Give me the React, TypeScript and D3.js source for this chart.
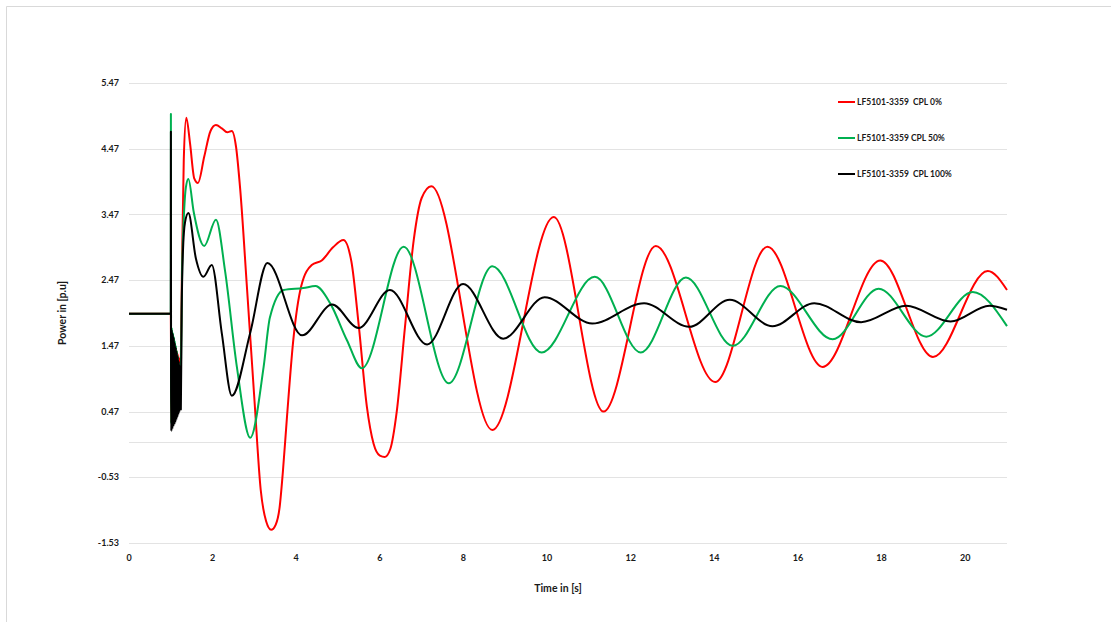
import React from 'react'
import * as d3 from 'd3'

const width = 1111
const height = 622
const plot = { left: 129, right: 1007, top: 83, bottom: 543 }

const xTicks = [0, 2, 4, 6, 8, 10, 12, 14, 16, 18, 20]
const yTicks = [5.47, 4.47, 3.47, 2.47, 1.47, 0.47, -0.53, -1.53]

const seriesNames = ['LF5101-3359  CPL 0%', 'LF5101-3359 CPL 50%', 'LF5101-3359  CPL 100%']
const seriesColors = ['#ff0000', '#00b050', '#000000']

// [time s, power p.u]
const cpl0: [number, number][] = [
  [0, 1.96], [1.0, 1.96], [1.006, 1.2], [1.012, 0.3], [1.024, 1.65], [1.036, 0.32],
  [1.048, 1.6], [1.06, 0.36], [1.072, 1.55], [1.084, 0.4], [1.096, 1.5], [1.108, 0.44],
  [1.12, 1.45], [1.132, 0.48], [1.144, 1.4], [1.156, 0.52], [1.168, 1.35], [1.18, 0.55],
  [1.192, 1.3], [1.204, 0.6], [1.216, 1.22], [1.228, 1.15], [1.24, 1.3],
  [1.27, 2.8], [1.31, 4.3], [1.37, 4.94], [1.46, 4.55], [1.56, 4.02], [1.65, 3.95],
  [1.8, 4.35], [1.95, 4.74], [2.08, 4.83], [2.22, 4.78], [2.35, 4.72], [2.46, 4.74],
  [2.56, 4.5], [2.66, 3.85], [2.82, 2.37], [3.0, 0.65], [3.15, -0.72], [3.28, -1.2],
  [3.4, -1.33], [3.51, -1.25], [3.6, -1.0], [3.68, -0.45], [3.78, 0.4], [3.93, 1.56],
  [4.12, 2.38], [4.37, 2.7], [4.61, 2.77], [4.88, 2.97], [5.13, 3.08], [5.32, 2.75],
  [5.5, 1.75], [5.69, 0.54], [5.85, -0.02], [6.0, -0.2], [6.12, -0.22], [6.25, -0.1],
  [6.4, 0.45], [6.6, 1.75], [6.81, 3.08], [7.0, 3.72], [7.23, 3.9], [8.69, 0.19],
  [10.16, 3.43], [11.35, 0.47], [12.6, 2.99], [14.02, 0.92], [15.27, 2.98],
  [16.59, 1.15], [17.97, 2.77], [19.23, 1.3], [20.54, 2.61], [21.0, 2.32]
]

const cpl50: [number, number][] = [
  [0, 1.96], [1.0, 1.96], [1.002, 5.0], [1.006, 1.2], [1.012, 0.28], [1.024, 1.75],
  [1.036, 0.32], [1.048, 1.68], [1.06, 0.36], [1.072, 1.62], [1.084, 0.4], [1.096, 1.55],
  [1.108, 0.44], [1.12, 1.48], [1.132, 0.48], [1.144, 1.4], [1.156, 0.52], [1.168, 1.32],
  [1.18, 0.56], [1.192, 1.22], [1.204, 0.62], [1.216, 1.1], [1.228, 0.95], [1.24, 1.05],
  [1.27, 2.6], [1.31, 3.4], [1.36, 3.88], [1.42, 4.01], [1.55, 3.5], [1.8, 2.99],
  [2.08, 3.39], [2.3, 2.6], [2.58, 1.15], [2.9, 0.07], [3.22, 1.15], [3.37, 1.9],
  [3.7, 2.32], [4.17, 2.35], [4.46, 2.38], [4.81, 2.12], [5.21, 1.56], [5.57, 1.13],
  [6.57, 2.98], [7.65, 0.9], [8.69, 2.68], [9.87, 1.37], [11.14, 2.52], [12.24, 1.37],
  [13.32, 2.51], [14.44, 1.47], [15.58, 2.38], [16.83, 1.57], [17.93, 2.34],
  [19.07, 1.61], [20.18, 2.29], [21.0, 1.77]
]

const cpl100: [number, number][] = [
  [0, 1.96], [1.0, 1.96], [1.002, 4.73], [1.006, 1.0], [1.012, 0.17], [1.022, 1.72],
  [1.034, 0.2], [1.046, 1.66], [1.058, 0.24], [1.07, 1.6], [1.082, 0.27], [1.094, 1.52],
  [1.106, 0.3], [1.118, 1.45], [1.13, 0.34], [1.142, 1.38], [1.154, 0.38], [1.166, 1.31],
  [1.178, 0.42], [1.19, 1.24], [1.202, 0.46], [1.214, 1.17], [1.226, 0.52], [1.24, 0.5],
  [1.26, 2.0], [1.29, 2.9], [1.34, 3.35], [1.42, 3.49], [1.6, 2.8], [1.78, 2.52],
  [1.98, 2.7], [2.22, 1.66], [2.46, 0.71], [2.9, 1.67], [3.31, 2.73], [4.14, 1.63],
  [4.86, 2.1], [5.49, 1.74], [6.24, 2.32], [7.13, 1.49], [7.99, 2.41], [8.95, 1.58],
  [9.94, 2.21], [11.08, 1.81], [12.32, 2.12], [13.4, 1.76], [14.37, 2.17], [15.39, 1.77],
  [16.39, 2.12], [17.51, 1.83], [18.59, 2.08], [19.65, 1.84], [20.58, 2.08], [21.0, 2.02]
]

const seriesData = [cpl0, cpl50, cpl100]

const font = "Lato, 'Open Sans', sans-serif"

const App = () => {
  const x = d3.scaleLinear().domain([0, 21]).range([plot.left, plot.right])
  const y = d3.scaleLinear().domain([-1.53, 5.47]).range([plot.bottom, plot.top])

  const line = d3
    .line<[number, number]>()
    .x(d => x(d[0]))
    .y(d => y(d[1]))
    .curve(d3.curveMonotoneX)

  return (
    <svg
      width={width}
      height={height}
      style={{ position: 'absolute', left: 0, top: 0, background: '#fff' }}
      fontFamily={font}
      fontWeight="bold"
    >
      <path d={`M6.5,${height} V6.5 H${width}`} fill="none" stroke="#d9d9d9" />

      {/* grid */}
      <g stroke="#e3e3e3" strokeWidth={1}>
        {yTicks.map(t => (
          <line key={t} x1={plot.left} x2={plot.right} y1={Math.round(y(t)) + 0.5} y2={Math.round(y(t)) + 0.5} />
        ))}
        <line x1={plot.left} x2={plot.right} y1={Math.round(y(0)) + 0.5} y2={Math.round(y(0)) + 0.5} />
      </g>

      {/* y labels */}
      <g fontSize={9} fill="#1a1a1a" textAnchor="end">
        {yTicks.map(t => (
          <text key={t} x={119} y={y(t)} dy="0.35em">
            {t.toFixed(2)}
          </text>
        ))}
      </g>

      {/* x labels */}
      <g fontSize={9} fill="#1a1a1a" textAnchor="middle">
        {xTicks.map(t => (
          <text key={t} x={x(t)} y={558} dy="0.35em">
            {t}
          </text>
        ))}
      </g>

      <text x={558} y={588} dy="0.35em" textAnchor="middle" fontSize={10.5} fill="#1a1a1a">
        Time in [s]
      </text>
      <text
        transform={`translate(62,${(plot.top + plot.bottom) / 2}) rotate(-90)`}
        dy="0.35em"
        textAnchor="middle"
        fontSize={10.5}
        fill="#1a1a1a"
      >
        Power in [p.u]
      </text>

      {/* series */}
      <g fill="none" strokeWidth={2} strokeLinejoin="round">
        {seriesData.map((d, i) => (
          <path key={i} d={line(d) || ''} stroke={seriesColors[i]} />
        ))}
      </g>

      {/* legend */}
      <g fontSize={8.5} fill="#1a1a1a">
        {seriesNames.map((name, i) => (
          <g key={name} transform={`translate(838,${102 + i * 36})`}>
            <line x1={0} x2={17} y1={0} y2={0} stroke={seriesColors[i]} strokeWidth={2} />
            <text x={19} y={0} dy="0.35em" style={{ whiteSpace: 'pre' }}>
              {name}
            </text>
          </g>
        ))}
      </g>
    </svg>
  )
}

export default App
